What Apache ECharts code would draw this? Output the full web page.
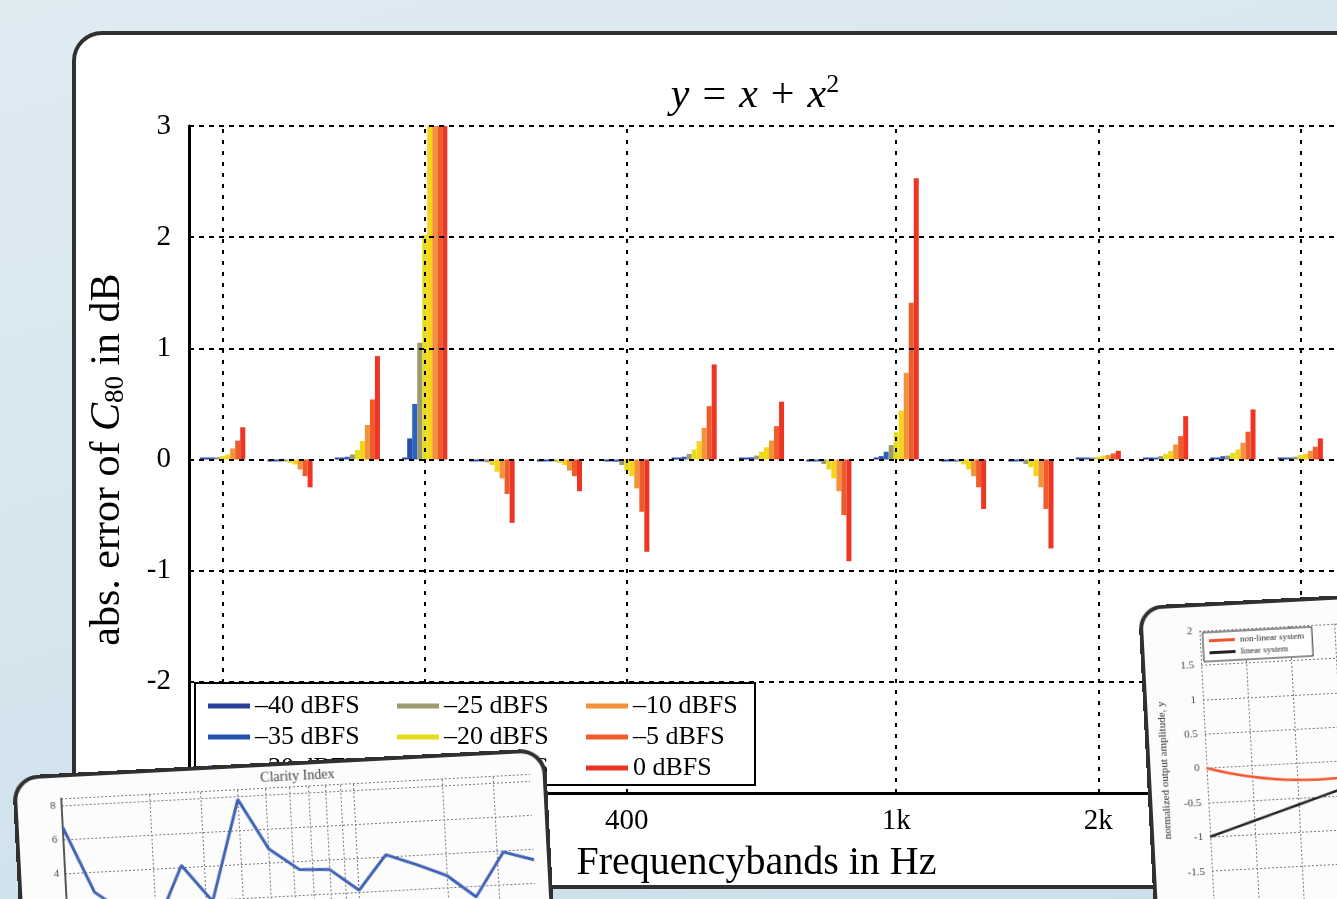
<!DOCTYPE html>
<html><head><meta charset="utf-8">
<script src="https://cdn.jsdelivr.net/npm/echarts@6/dist/echarts.min.js"></script>
<style>
html,body{margin:0;padding:0;width:1337px;height:899px;overflow:hidden;}
body{position:relative;background:linear-gradient(165deg,#e0ebf2 0%,#d6e6ef 45%,#cbdfea 100%);}
#card{position:absolute;left:72px;top:31px;width:1400px;height:850px;border:4px solid #303030;border-radius:30px;background:#fff;}
#main{position:absolute;left:0;top:0;width:1337px;height:899px;}
.mini{position:absolute;transform-origin:0 0;border:4px solid #303030;background:#fcfcfc;box-sizing:border-box;overflow:hidden;}
#clarityCard{left:12px;top:776px;width:534px;height:320px;transform:rotate(-3deg);border-radius:26px;}
#ampCard{left:1138px;top:606px;width:700px;height:420px;transform:rotate(-3deg);border-radius:24px;}
.inner{position:absolute;left:0;top:0;}
</style></head>
<body>
<div id="card"></div>
<div id="main"></div>
<div id="clarityCard" class="mini"><div id="clarity" class="inner" style="width:526px;height:312px"></div></div>
<div id="ampCard" class="mini"><div id="amp" class="inner" style="width:692px;height:412px"></div></div>
<script>
// ---------- main chart data ----------
const bands = ['100','125','160','200','250','315','400','500','630','800','1k','1.25k','1.6k','2k','2.5k','3.15k','4k'];
const tickBands = ['100','200','400','1k','2k','4k'];
const yTicks = [3,2,1,0,-1,-2];
const levels = ['–40 dBFS','–35 dBFS','–30 dBFS','–25 dBFS','–20 dBFS','–15 dBFS','–10 dBFS','–5 dBFS','0 dBFS'];
const legendOrder = ['–40 dBFS','–25 dBFS','–10 dBFS','–35 dBFS','–20 dBFS','–5 dBFS','–30 dBFS','–15 dBFS','0 dBFS'];
const errM40 = [0.003,-0.003,0.008,0.01,-0.003,-0.002,-0.005,0.005,0.005,-0.003,0.01,-0.002,-0.005,0.003,0.005,0.008,0.003];
const errM35 = [0.005,-0.005,0.015,0.19,-0.005,-0.004,-0.01,0.01,0.015,-0.008,0.03,-0.004,-0.01,0.005,0.008,0.015,0.005];
const errM30 = [0.008,-0.008,0.025,0.5,-0.01,-0.006,-0.02,0.025,0.02,-0.015,0.07,-0.008,-0.015,0.008,0.012,0.03,0.01];
const errM25 = [0.02,-0.012,0.045,1.05,-0.025,-0.012,-0.05,0.05,0.035,-0.04,0.13,-0.02,-0.04,0.012,0.03,0.035,0.025];
const errM20 = [0.03,-0.03,0.085,2.02,-0.05,-0.03,-0.1,0.09,0.07,-0.09,0.245,-0.045,-0.07,0.025,0.05,0.06,0.04];
const errM15 = [0.045,-0.045,0.165,3,-0.11,-0.05,-0.15,0.165,0.11,-0.17,0.44,-0.09,-0.15,0.035,0.075,0.09,0.05];
const errM10 = [0.1,-0.09,0.31,3,-0.17,-0.1,-0.26,0.285,0.17,-0.285,0.78,-0.15,-0.25,0.04,0.135,0.15,0.078];
const errM5  = [0.17,-0.15,0.54,3,-0.31,-0.15,-0.47,0.48,0.3,-0.5,1.41,-0.25,-0.445,0.055,0.21,0.25,0.115];
const err0   = [0.29,-0.25,0.93,3,-0.57,-0.285,-0.83,0.855,0.52,-0.915,2.53,-0.445,-0.8,0.078,0.39,0.45,0.19];
const seriesValues = [errM40,errM35,errM30,errM25,errM20,errM15,errM10,errM5,err0];
const colors = ['#28409a','#2550ad','#2f62bf','#9c9a6e','#e3dd1e','#f7d418','#f2933a','#ef5c2c','#ee3524'];

// ---------- clarity index card data ----------
const clarityFreq = [100,125,160,200,250,315,400,500,630,800,1000,1250,1600,2000,2500,3150,4000];
const clarityVal  = [6.7,2.8,1.4,0.6,4.1,1.9,7.8,4.8,3.5,3.4,2.1,4.1,3.4,2.7,1.35,3.9,3.35];
const clarityGrid = [200,300,400,500,600,700,800,900,1000,2000,3000];

// ---------- amplitude card data ----------
const ampX = [-1,-0.9,-0.8,-0.7,-0.6,-0.5,-0.4];
const ampNonLinear = [0,-0.09,-0.16,-0.21,-0.24,-0.25,-0.24];
const ampLinear = [-1,-0.9,-0.8,-0.7,-0.6,-0.5,-0.4];

const F = 'Liberation Serif';

const main = echarts.init(document.getElementById('main'), null, {renderer:'canvas'});
const series = seriesValues.map((vals, i) => ({
  name: levels[i], type: 'bar', data: vals, barGap: '0%', barCategoryGap: '33%',
  barMinHeight: 2, itemStyle: {color: colors[i]}, animation: false, clip: true
}));
series.push({
  name: 'grid', type: 'line', data: [], silent: true, animation: false,
  markLine: {
    silent: true, symbol: 'none', animation: false, label: {show: false},
    lineStyle: {color: '#000', width: 2, type: [5,5]},
    data: yTicks.map(v => ({yAxis: v})).concat(tickBands.map(b => ({xAxis: b, lineStyle: {type: [4,7], color:'#000', width:2}})))
  }
});
main.setOption({
  backgroundColor: 'transparent',
  animation: false,
  title: {
    text: '{i|y}{o|=}{i|x}{o|+}{i|x}{p|2}', left: 750, top: 67, textAlign: 'center',
    textStyle: {fontFamily: F, fontSize: 42, fontWeight: 'normal', color: '#000',
      rich: {i: {fontFamily: F, fontSize: 42, fontStyle: 'italic', color:'#000'},
             o: {fontFamily: F, fontSize: 42, color:'#000', padding: [0,13,0,13]},
             p: {fontFamily: F, fontSize: 26, color:'#000', padding: [0,0,21,0]}}}
  },
  grid: {left: 189, right: 3, top: 126, bottom: 106, outerBoundsMode: 'none'},
  legend: {
    left: 208, top: 693, width: 600, itemWidth: 42, itemHeight: 5, itemGap: 5, icon: 'rect',
    data: legendOrder, selectedMode: false, padding: 0, z: 7,
    textStyle: {fontFamily: F, fontSize: 26, color: '#000', width: 137, lineHeight: 25}
  },
  graphic: [{type: 'rect', z: 6, shape: {x: 195, y: 683, width: 560, height: 102},
    style: {fill: '#fff', stroke: '#000', lineWidth: 2}}],
  xAxis: {
    type: 'category', data: bands,
    axisLine: {show: true, onZero: false, lineStyle: {color: '#000', width: 3}},
    axisTick: {show: false},
    axisLabel: {interval: (i, v) => tickBands.indexOf(v) >= 0, fontFamily: F, fontSize: 29, color: '#000', margin: 14},
    splitLine: {show: false},
    name: 'Frequencybands in Hz', nameLocation: 'middle', nameGap: 50,
    nameTextStyle: {fontFamily: F, fontSize: 40, color: '#000', padding: [0,10,0,0]}
  },
  yAxis: {
    type: 'value', min: -3, max: 3, interval: 1,
    axisLine: {show: true, lineStyle: {color: '#000', width: 3}},
    axisTick: {show: false},
    axisLabel: {fontFamily: F, fontSize: 29, color: '#000', margin: 18},
    splitLine: {show: false},
    name: '{t|abs. error of }{c|C}{s|80}{t| in dB}', nameLocation: 'middle', nameGap: 60, nameRotate: 90,
    nameTextStyle: {fontFamily: F, fontSize: 42, color: '#000',
      rich: {t: {fontFamily: F, fontSize: 42, color: '#000'},
             c: {fontFamily: F, fontSize: 42, fontStyle: 'italic', color: '#000'},
             s: {fontFamily: F, fontSize: 27, color: '#000', padding: [16,0,0,0]}}}
  },
  series: series
});

// ---------- Clarity Index mini chart ----------
const cl = echarts.init(document.getElementById('clarity'));
cl.setOption({
  backgroundColor: 'transparent', animation: false,
  title: {text: 'Clarity Index', left: 276, top: -1, textAlign: 'center',
    textStyle: {fontFamily: F, fontSize: 14, fontWeight: 'normal', color: '#444'}},
  grid: {left: 44, right: 13, top: 21, bottom: 148, outerBoundsMode: 'none'},
  xAxis: {type: 'log', min: 100, max: 4000, logBase: 10,
    axisLine: {show: false}, axisTick: {show: false}, axisLabel: {show: false}, splitLine: {show: false}},
  yAxis: {type: 'value', min: 0, max: 8.4, interval: 2,
    axisLine: {show: true, lineStyle: {color: '#222', width: 1.5}}, axisTick: {show: false},
    axisLabel: {fontFamily: F, fontSize: 11, color: '#444', margin: 6, showMaxLabel: false},
    splitLine: {show: true, lineStyle: {color: '#777', type: [2,2], width: 1}}},
  series: [{type: 'line', data: clarityFreq.map((f, i) => [f, clarityVal[i]]), showSymbol: false,
    lineStyle: {color: '#3f62b4', width: 3}, z: 3,
    markLine: {silent: true, symbol: 'none', label: {show: false}, animation: false, z: 1,
      lineStyle: {color: '#777', type: [2,2], width: 1},
      data: clarityGrid.map(v => ({xAxis: v}))}}]
});

// ---------- amplitude mini chart ----------
const am = echarts.init(document.getElementById('amp'));
am.setOption({
  backgroundColor: 'transparent', animation: false,
  grid: {left: 56, right: 186, top: 24, bottom: 113, outerBoundsMode: 'none'},
  legend: {left: 59, top: 26, orient: 'vertical', itemWidth: 26, itemHeight: 3, itemGap: 3, icon: 'rect',
    backgroundColor: '#fff', borderColor: '#222', borderWidth: 1, padding: [4,8,4,6], selectedMode: false,
    textStyle: {fontFamily: F, fontSize: 9, color: '#222'}},
  xAxis: {type: 'value', min: -1, max: 1, interval: 0.2,
    axisLine: {show: false}, axisTick: {show: false}, axisLabel: {show: false},
    splitLine: {show: true, lineStyle: {color: '#777', type: [2,2], width: 1}}},
  yAxis: {type: 'value', min: -2, max: 2, interval: 0.5,
    axisLine: {show: true, lineStyle: {color: '#222', width: 1.5}}, axisTick: {show: false},
    axisLabel: {fontFamily: F, fontSize: 11, color: '#444', margin: 7},
    splitLine: {show: true, lineStyle: {color: '#777', type: [2,2], width: 1}},
    name: 'normalized output amplitude, y', nameLocation: 'middle', nameGap: 36,
    nameTextStyle: {fontFamily: F, fontSize: 11, color: '#333'}},
  series: [
    {name: 'non-linear system', type: 'line', smooth: true, showSymbol: false,
      data: ampX.map((x, i) => [x, ampNonLinear[i]]), lineStyle: {color: '#f4552e', width: 2.5}, itemStyle: {color: '#f4552e'}},
    {name: 'linear system', type: 'line', showSymbol: false,
      data: ampX.map((x, i) => [x, ampLinear[i]]), lineStyle: {color: '#222', width: 2.5}, itemStyle: {color: '#222'}}
  ]
});
</script>
</body></html>
